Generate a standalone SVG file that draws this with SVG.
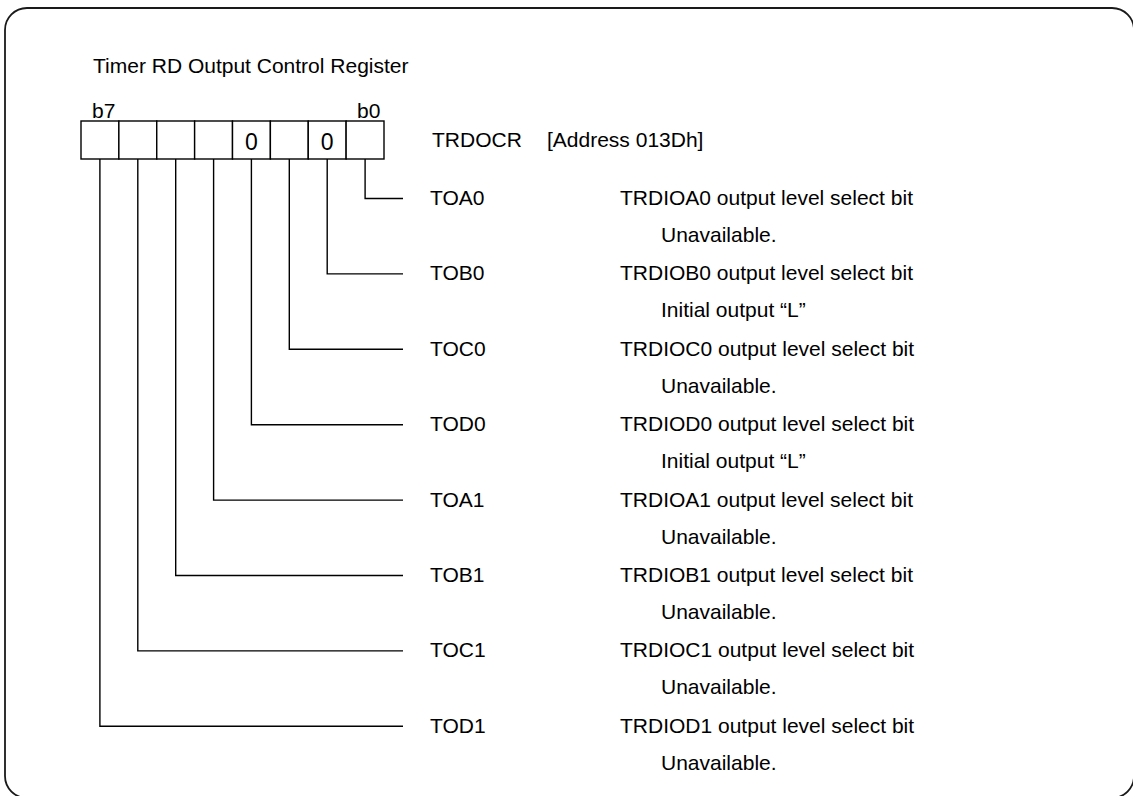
<svg xmlns="http://www.w3.org/2000/svg" width="1133" height="796" viewBox="0 0 1133 796">
<style>
  text { font-family: "Liberation Sans", Arial, sans-serif; font-size: 21px; fill: #000; }
  .frame { fill: none; stroke: #1a1a1a; stroke-width: 1.8; }
  .cell { fill: #fff; stroke: #000; stroke-width: 1.4; }
  .conn { fill: none; stroke: #000; stroke-width: 1.4; }
  .bit { text-anchor: middle; font-size: 23px; }
</style>
<rect width="1133" height="796" fill="#fff"/>
<rect id="frame" class="frame" x="5" y="8" width="1129" height="790" rx="22" ry="22"/>

<g id="title"><text x="93" y="73">Timer RD Output Control Register</text></g>

<g id="register">
  <text x="92" y="118">b7</text>
  <text x="357" y="118">b0</text>
  <rect class="cell" x="81" y="121" width="37.875" height="38"/>
  <rect class="cell" x="118.875" y="121" width="37.875" height="38"/>
  <rect class="cell" x="156.75" y="121" width="37.875" height="38"/>
  <rect class="cell" x="194.625" y="121" width="37.875" height="38"/>
  <rect class="cell" x="232.5" y="121" width="37.875" height="38"/>
  <rect class="cell" x="270.375" y="121" width="37.875" height="38"/>
  <rect class="cell" x="308.25" y="121" width="37.875" height="38"/>
  <rect class="cell" x="346.125" y="121" width="37.875" height="38"/>
  <text class="bit" x="251.4" y="149.5">0</text>
  <text class="bit" x="327.2" y="149.5">0</text>
  <text x="432" y="147">TRDOCR</text>
  <text x="547" y="147">[Address 013Dh]</text>
</g>

<g id="connectors">
  <polyline class="conn" points="365.1,159 365.1,198.5 403,198.5"/>
  <polyline class="conn" points="327.2,159 327.2,273.9 403,273.9"/>
  <polyline class="conn" points="289.3,159 289.3,349.3 403,349.3"/>
  <polyline class="conn" points="251.4,159 251.4,424.7 403,424.7"/>
  <polyline class="conn" points="213.6,159 213.6,500.1 403,500.1"/>
  <polyline class="conn" points="175.7,159 175.7,575.5 403,575.5"/>
  <polyline class="conn" points="137.8,159 137.8,650.9 403,650.9"/>
  <polyline class="conn" points="99.9,159 99.9,726.3 403,726.3"/>
</g>

<g id="bit0"><text x="430" y="205">TOA0</text><text x="620" y="205">TRDIOA0 output level select bit</text><text x="661" y="242">Unavailable.</text></g>
<g id="bit1"><text x="430" y="280.4">TOB0</text><text x="620" y="280.4">TRDIOB0 output level select bit</text><text x="661" y="317.4">Initial output “L”</text></g>
<g id="bit2"><text x="430" y="355.8">TOC0</text><text x="620" y="355.8">TRDIOC0 output level select bit</text><text x="661" y="392.8">Unavailable.</text></g>
<g id="bit3"><text x="430" y="431.2">TOD0</text><text x="620" y="431.2">TRDIOD0 output level select bit</text><text x="661" y="468.2">Initial output “L”</text></g>
<g id="bit4"><text x="430" y="506.6">TOA1</text><text x="620" y="506.6">TRDIOA1 output level select bit</text><text x="661" y="543.6">Unavailable.</text></g>
<g id="bit5"><text x="430" y="582">TOB1</text><text x="620" y="582">TRDIOB1 output level select bit</text><text x="661" y="619">Unavailable.</text></g>
<g id="bit6"><text x="430" y="657.4">TOC1</text><text x="620" y="657.4">TRDIOC1 output level select bit</text><text x="661" y="694.4">Unavailable.</text></g>
<g id="bit7"><text x="430" y="732.8">TOD1</text><text x="620" y="732.8">TRDIOD1 output level select bit</text><text x="661" y="769.8">Unavailable.</text></g>
</svg>
